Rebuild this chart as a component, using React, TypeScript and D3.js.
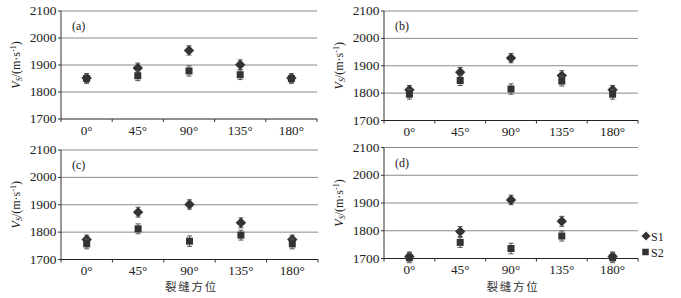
import React from 'react';
import * as d3 from 'd3';

const categories = ['0°', '45°', '90°', '135°', '180°'];
const yTicks = [1700, 1800, 1900, 2000, 2100];
const panelLabels = ['(a)', '(b)', '(c)', '(d)'];
const seriesNames = ['S1', 'S2'];
const xTitle = '裂缝方位';

const s1A = [1852, 1889, 1954, 1901, 1852];
const s2A = [1850, 1860, 1878, 1864, 1850];
const s1B = [1812, 1876, 1928, 1864, 1812];
const s2B = [1796, 1846, 1815, 1844, 1796];
const s1C = [1773, 1873, 1901, 1834, 1773];
const s2C = [1757, 1812, 1767, 1789, 1757];
const s1D = [1707, 1797, 1911, 1834, 1707];
const s2D = [1703, 1758, 1736, 1781, 1703];
const errS1 = [16, 18, 17, 18, 16];
const errS2 = [18, 18, 19, 18, 18];

const panelS1 = [s1A, s1B, s1C, s1D];
const panelS2 = [s2A, s2B, s2C, s2D];

const layout = [
  { left: 61, right: 317, top: 11, bottom: 119, showTitle: false, legend: false },
  { left: 384, right: 638, top: 11, bottom: 120.5, showTitle: false, legend: false },
  { left: 61, right: 318, top: 150, bottom: 259.5, showTitle: true, legend: false },
  { left: 384, right: 638, top: 147.5, bottom: 258.5, showTitle: true, legend: true },
];

const SERIF = { fontFamily: "'Liberation Serif', 'Times New Roman', serif" };
const CJK = { fontFamily: "'Noto Sans CJK SC', sans-serif" };
const MARK = '#333333';

function Diamond({ x, y, r }: { x: number; y: number; r: number }) {
  return <path d={`M${x},${y - r}L${x + r},${y}L${x},${y + r}L${x - r},${y}Z`} fill={MARK} />;
}
function Square({ x, y, s }: { x: number; y: number; s: number }) {
  return <rect x={x - s / 2} y={y - s / 2} width={s} height={s} fill={MARK} />;
}
function ErrBar({ x, y1, y2 }: { x: number; y1: number; y2: number }) {
  return (
    <g stroke="#555" strokeWidth={1}>
      <line x1={x} x2={x} y1={y1} y2={y2} />
      <line x1={x - 2.5} x2={x + 2.5} y1={y1} y2={y1} />
      <line x1={x - 2.5} x2={x + 2.5} y1={y2} y2={y2} />
    </g>
  );
}

function Panel({ idx }: { idx: number }) {
  const p = layout[idx];
  const x = d3.scaleBand<string>().domain(categories).range([p.left, p.right]).padding(0);
  const y = d3.scaleLinear().domain([1700, 2100]).range([p.bottom, p.top]);
  const s1 = panelS1[idx];
  const s2 = panelS2[idx];
  const bw = x.bandwidth();
  const boundaries = categories.map((c) => (x(c) as number)).concat([p.right]);
  const midY = (p.top + p.bottom) / 2;
  const titleX = p.left - 45.5;
  return (
    <g>
      {yTicks.map((t) => (
        <g key={t}>
          {t !== 1700 && (
            <line x1={p.left} x2={p.right} y1={y(t)} y2={y(t)} stroke="#8a8a8a" strokeWidth={1} />
          )}
          <line x1={p.left - 3} x2={p.left} y1={y(t)} y2={y(t)} stroke="#333" strokeWidth={1} />
          <text
            transform={`translate(${p.left - 4.5},${y(t) + 4}) scale(1.12,1)`}
            textAnchor="end"
            style={SERIF}
            fontSize={12}
            fill="#222"
          >
            {t}
          </text>
        </g>
      ))}
      <line x1={p.left} x2={p.left} y1={p.top} y2={p.bottom} stroke="#333" strokeWidth={1} />
      <line x1={p.left} x2={p.right} y1={p.bottom} y2={p.bottom} stroke="#222" strokeWidth={1.2} />
      {boundaries.map((b, i) => (
        <line key={i} x1={b} x2={b} y1={p.bottom} y2={p.bottom + 3} stroke="#333" strokeWidth={1} />
      ))}
      {categories.map((c) => (
        <text
          key={c}
          transform={`translate(${(x(c) as number) + bw / 2},${p.bottom + 15.5}) scale(1.1,1)`}
          textAnchor="middle"
          style={SERIF}
          fontSize={12}
          fill="#222"
        >
          {c}
        </text>
      ))}
      <text x={p.left + 11} y={p.top + 19} style={SERIF} fontSize={12} fill="#222">
        {panelLabels[idx]}
      </text>
      <text
        transform={`translate(${titleX + 4},${midY}) rotate(-90)`}
        textAnchor="middle"
        style={SERIF}
        fontSize={12}
        fill="#222"
      >
        <tspan fontStyle="italic">V</tspan>
        <tspan fontStyle="italic" fontSize={8} dy={2}>S</tspan>
        <tspan dy={-2}>/(m·s</tspan>
        <tspan fontSize={8} dy={-4}>-1</tspan>
        <tspan dy={4}>)</tspan>
      </text>
      {categories.map((c, i) => {
        const cx = (x(c) as number) + bw / 2;
        return (
          <g key={'s1' + c}>
            <ErrBar x={cx} y1={y(s1[i] + errS1[i])} y2={y(s1[i] - errS1[i])} />
            <Diamond x={cx} y={y(s1[i])} r={5.2} />
          </g>
        );
      })}
      {categories.map((c, i) => {
        const cx = (x(c) as number) + bw / 2;
        return (
          <g key={'s2' + c}>
            <ErrBar x={cx} y1={y(s2[i] + errS2[i])} y2={y(s2[i] - errS2[i])} />
            <Square x={cx} y={y(s2[i])} s={7} />
          </g>
        );
      })}
      {p.showTitle && (
        <text
          x={(p.left + p.right) / 2 + 2}
          y={291}
          textAnchor="middle"
          style={CJK}
          fontSize={11.5}
          letterSpacing={1.8}
          fill="#333"
        >
          {xTitle}
        </text>
      )}
      {p.legend && (
        <g>
          <Diamond x={646} y={236} r={4.5} />
          <text x={651} y={240.5} style={SERIF} fontSize={12} fill="#222">{seriesNames[0]}</text>
          <Square x={645.5} y={252} s={6.5} />
          <text x={651} y={256.5} style={SERIF} fontSize={12} fill="#222">{seriesNames[1]}</text>
        </g>
      )}
    </g>
  );
}

export default function App() {
  return (
    <svg
      width={681}
      height={298}
      style={{ position: 'absolute', left: 0, top: 0, background: '#fff' }}
    >
      <rect x={0} y={0} width={681} height={298} fill="#fff" />
      {[0, 1, 2, 3].map((i) => (
        <Panel key={i} idx={i} />
      ))}
    </svg>
  );
}
